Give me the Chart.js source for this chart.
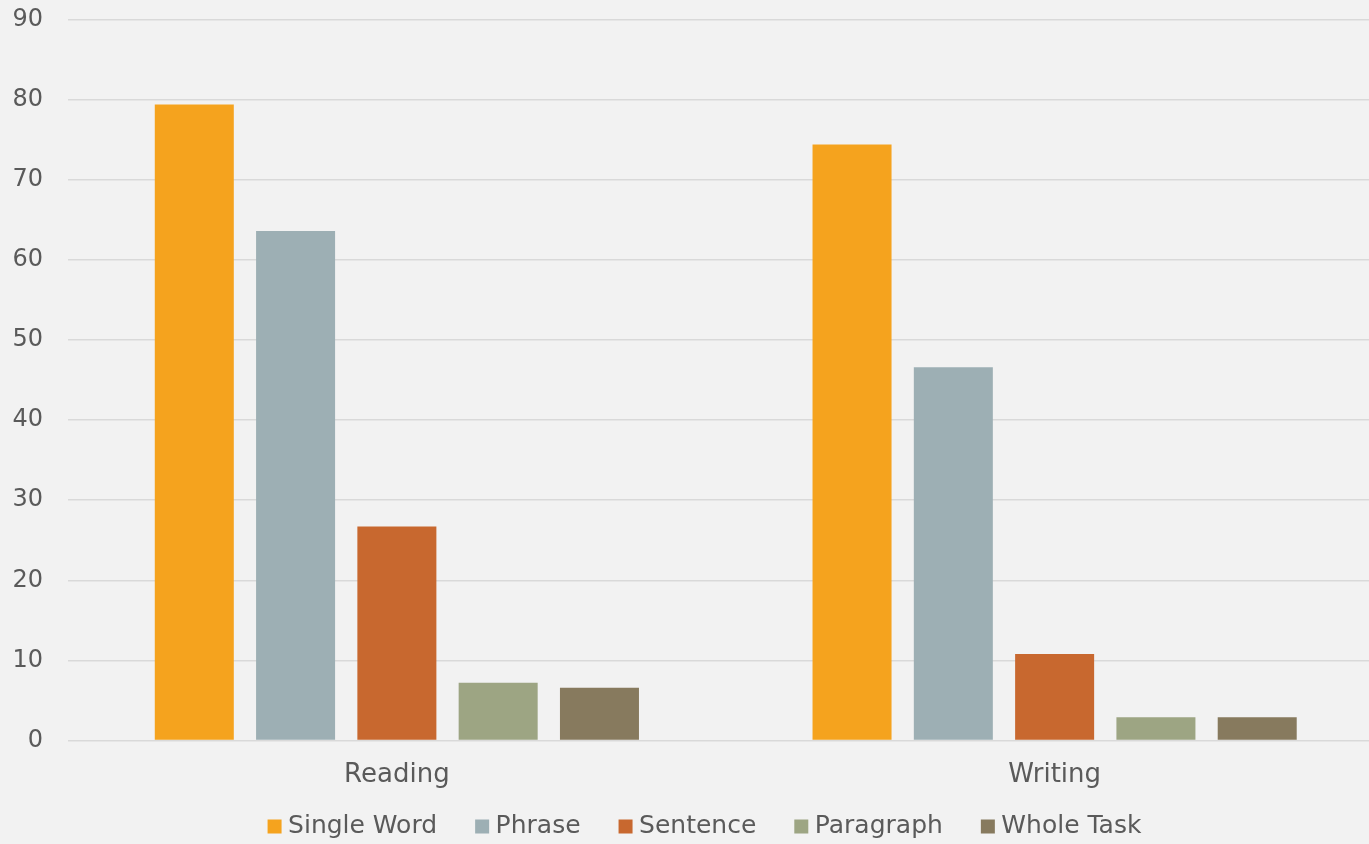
<!DOCTYPE html>
<html>
<head>
<meta charset="utf-8">
<script src="https://cdn.jsdelivr.net/npm/chart.js@4/dist/chart.umd.min.js"></script>
<style>
  html, body { margin: 0; padding: 0; background: #f2f2f2; overflow: hidden; }
  #wrap { position: absolute; left: 0; top: 0; width: 1415px; height: 844px; }
</style>
</head>
<body>
<div id="wrap"><canvas id="c" width="1415" height="844"></canvas></div>
<script>
const categories = ['Reading', 'Writing'];
const seriesNames = ['Single Word', 'Phrase', 'Sentence', 'Paragraph', 'Whole Task'];
const singleWord = [79.4, 74.4];
const phrase = [63.6, 46.6];
const sentence = [26.7, 10.8];
const paragraph = [7.2, 2.9];
const wholeTask = [6.6, 2.9];
const yTicks = [0, 10, 20, 30, 40, 50, 60, 70, 80, 90];

const colors = ['#f5a31e', '#9dafb4', '#c8682f', '#9da583', '#877a5e'];
const values = [singleWord, phrase, sentence, paragraph, wholeTask];

const FONT = '"DejaVu Sans", sans-serif';
const TEXT = '#5a5a5a';

const bg = {
  id: 'bg',
  beforeDraw(chart) {
    const ctx = chart.ctx;
    ctx.save();
    ctx.fillStyle = '#f2f2f2';
    ctx.fillRect(0, 0, chart.width, chart.height);
    ctx.restore();
  }
};

new Chart(document.getElementById('c'), {
  type: 'bar',
  data: {
    labels: categories,
    datasets: seriesNames.map((name, i) => ({
      label: name,
      data: values[i],
      backgroundColor: colors[i],
      borderWidth: 0,
      categoryPercentage: 0.77,
      barPercentage: 0.78
    }))
  },
  options: {
    responsive: false,
    animation: false,
    devicePixelRatio: 1,
    layout: { padding: { top: 19.5, right: 0, left: 0, bottom: -5 } },
    plugins: {
      tooltip: { enabled: false },
      legend: {
        position: 'bottom',
        labels: {
          usePointStyle: true,
          pointStyle: 'rect',
          boxWidth: 2,
          boxHeight: 14,
          padding: 44,
          color: TEXT,
          font: { family: FONT, size: 25 }
        }
      }
    },
    scales: {
      x: {
        grid: { display: false, drawTicks: false },
        border: { display: false },
        // mirrored labels with a negative padding sit below the axis line
        ticks: { color: TEXT, font: { family: FONT, size: 26 }, mirror: true, padding: -50 },
        afterFit(scale) { scale.height = 29.5; }
      },
      y: {
        min: 0,
        max: 90,
        afterBuildTicks(scale) { scale.ticks = yTicks.map(v => ({ value: v })); },
        grid: { color: '#d9d9d9', lineWidth: 1.5, drawTicks: false },
        border: { display: false },
        ticks: { color: TEXT, font: { family: FONT, size: 24 }, padding: 25 },
        afterFit(scale) {
          scale.width = 68;
          scale.paddingTop = 0;
          scale.paddingBottom = 0;
        }
      },
      // empty margin on the right of the plot
      yRight: {
        position: 'right',
        grid: { display: false, drawTicks: false },
        border: { display: false },
        ticks: { display: false },
        afterFit(scale) {
          scale.width = 31.5;
          scale.paddingTop = 0;
          scale.paddingBottom = 0;
        }
      }
    }
  },
  plugins: [bg]
});
</script>
</body>
</html>
